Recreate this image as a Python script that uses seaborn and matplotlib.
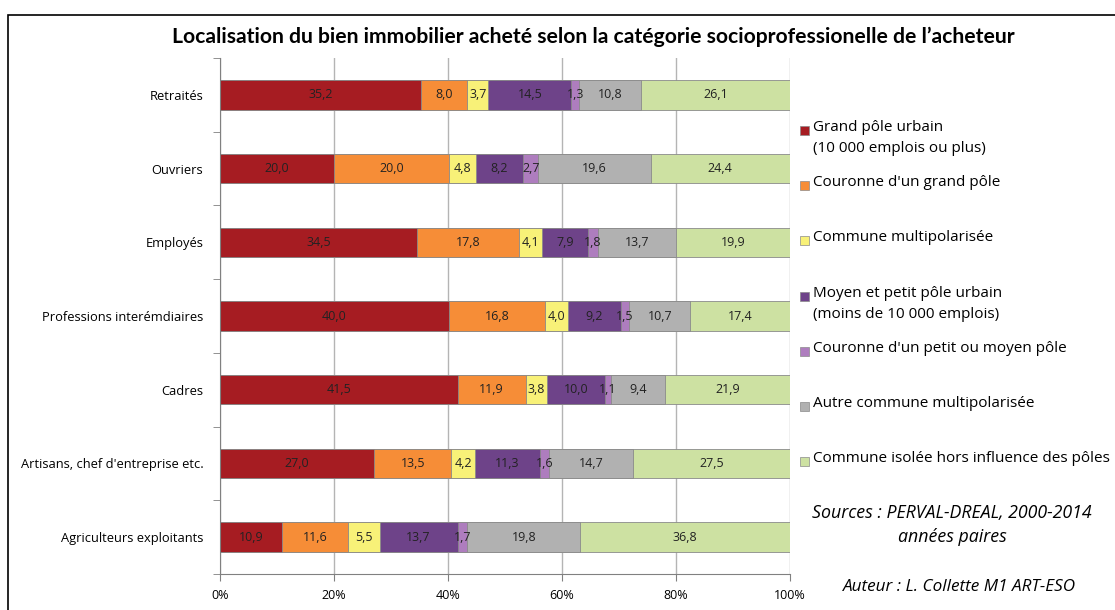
import numpy as np
import pandas as pd
import matplotlib.pyplot as plt
import seaborn as sns
from matplotlib.patches import Rectangle
from matplotlib.ticker import PercentFormatter

categories = ["Retraités", "Ouvriers", "Employés", "Professions interémdiaires",
              "Cadres", "Artisans, chef d'entreprise etc.", "Agriculteurs exploitants"]
series = ["Grand pôle urbain\n(10 000 emplois ou plus)",
          "Couronne d'un grand pôle",
          "Commune multipolarisée",
          "Moyen et petit pôle urbain\n(moins de 10 000 emplois)",
          "Couronne d'un petit ou moyen pôle",
          "Autre commune multipolarisée",
          "Commune isolée hors influence des pôles"]
colors = ["#A61C22", "#F68D37", "#F8F178", "#6E4389", "#AE7DBE", "#B1B1B1", "#CDE1A2"]

grand_pole = [35.2, 20.0, 34.5, 40.0, 41.5, 27.0, 10.9]
couronne_grand = [8.0, 20.0, 17.8, 16.8, 11.9, 13.5, 11.6]
multipolarisee = [3.7, 4.8, 4.1, 4.0, 3.8, 4.2, 5.5]
moyen_petit = [14.5, 8.2, 7.9, 9.2, 10.0, 11.3, 13.7]
couronne_petit = [1.3, 2.7, 1.8, 1.5, 1.1, 1.6, 1.7]
autre_multi = [10.8, 19.6, 13.7, 10.7, 9.4, 14.7, 19.8]
isolee = [26.1, 24.4, 19.9, 17.4, 21.9, 27.5, 36.8]

df = pd.DataFrame([grand_pole, couronne_grand, multipolarisee, moyen_petit,
                   couronne_petit, autre_multi, isolee], index=series, columns=categories).T
# barres à 100 %
pct = df.div(df.sum(axis=1), axis=0) * 100
cum = pct.cumsum(axis=1)
left = cum - pct

plt.rcParams['font.family'] = ['Open Sans', 'DejaVu Sans']
fig = plt.figure(figsize=(11.15, 6.1), dpi=100)
ax = fig.add_axes([220 / 1115, 36 / 610, 570 / 1115, 516 / 610])

# empilement : on trace les cumuls du plus grand au plus petit
for i in range(len(series) - 1, -1, -1):
    d = pd.DataFrame({"cat": categories, "val": cum.iloc[:, i].values})
    sns.barplot(data=d, x="val", y="cat", orient="h", color=colors[i], width=0.4,
                edgecolor="#8a8a8a", linewidth=0.6, saturation=1, ax=ax, zorder=2)

for j, cat in enumerate(categories):
    for i, s in enumerate(series):
        ax.text(left.iloc[j, i] + pct.iloc[j, i] / 2, j, f"{df.iloc[j, i]:.1f}".replace(".", ","),
                ha="center", va="center", fontsize=9, color="#222222", zorder=3)

ax.set_xlim(0, 100)
ax.set_ylim(len(categories) - 0.5, -0.5)
ax.set_xticks(np.arange(0, 101, 20))
ax.xaxis.set_major_formatter(PercentFormatter(decimals=0))
ax.grid(axis="x", color="#b4b4b4", linewidth=1, zorder=0)
ax.set_axisbelow(True)
ax.set_xlabel("")
ax.set_ylabel("")
ax.set_yticks(np.arange(-0.5, len(categories), 1), minor=True)
ax.tick_params(axis="y", which="major", length=0, pad=12, labelsize=9.3)
ax.tick_params(axis="y", which="minor", length=5, color="#808080")
ax.tick_params(axis="x", length=5, color="#808080", labelsize=9, pad=6)
for side in ["top", "right"]:
    ax.spines[side].set_visible(False)
ax.spines["left"].set_color("#808080")
ax.spines["bottom"].set_color("#808080")

fig.text(593 / 1115, 1 - 37 / 610, "Localisation du bien immobilier acheté selon la catégorie socioprofessionelle de l’acheteur",
         ha="center", va="center", fontsize=15.2, fontweight="bold", family=["Lato", "DejaVu Sans"])

# légende à la manière d'Excel
leg_y = [130, 185, 240, 296, 351, 406, 461]
for y, lab, c in zip(leg_y, series, colors):
    fig.add_artist(Rectangle((800 / 1115, 1 - (y + 5) / 610), 9 / 1115, 9 / 610,
                             facecolor=c, edgecolor="#8a8a8a", linewidth=0.5, transform=fig.transFigure))
    fig.text(813 / 1115, 1 - (y - 10) / 610, lab, ha="left", va="top", fontsize=11,
             linespacing=1.55)

fig.text(952 / 1115, 1 - 525 / 610, "Sources : PERVAL-DREAL, 2000-2014\nannées paires",
         ha="center", va="center", fontsize=12.8, style="italic", linespacing=1.45)
fig.text(960 / 1115, 1 - 587 / 610, "Auteur : L. Collette M1 ART-ESO",
         ha="center", va="center", fontsize=12.3, style="italic")

fig.add_artist(Rectangle((8 / 1115, -0.01), 1.2, 1 - 15 / 610 + 0.01, fill=False,
                         edgecolor="black", linewidth=1.2, transform=fig.transFigure))

fig.savefig("out.png", dpi=100)
